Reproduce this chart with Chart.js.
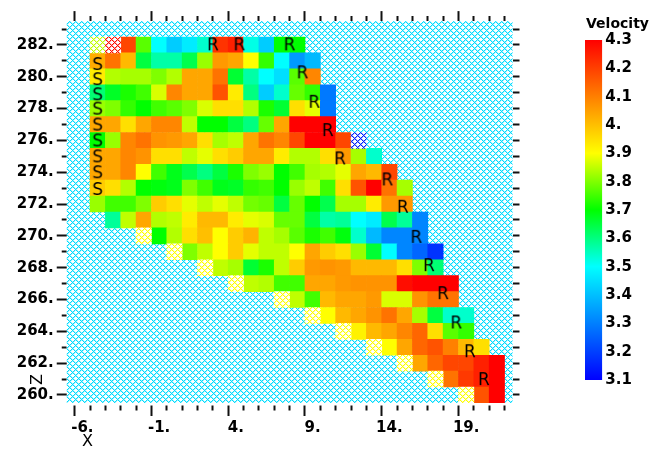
<!DOCTYPE html>
<html>
<head>
<meta charset="utf-8">
<script src="https://cdn.jsdelivr.net/npm/chart.js@4.4.1/dist/chart.umd.min.js"></script>
<style>
  body { margin: 0; background: #fff; }
  #wrap { position: relative; width: 659px; height: 449px; }
  #wrap canvas { position: absolute; top: 0; }
</style>
</head>
<body>
<div id="wrap">
  <canvas id="plot" width="659" height="449" style="left:0"></canvas>
  <canvas id="bar" width="90" height="449" style="left:560px"></canvas>
</div>
<script>
// velocity cells: one row per depth z, first value sits at x = rowStart
const rowZ = [282, 281, 280, 279, 278, 277, 276, 275, 274, 273, 272, 271, 270, 269, 268, 267, 266, 265, 264, 263, 262, 261, 260];
const rowStart = [-3, -5, -5, -5, -5, -5, -5, -5, -5, -5, -5, -4, -1, 1, 3, 5, 8, 10, 12, 14, 16, 18, 20];
const rowValues = [
  [4.19, 3.77, 3.50, 3.42, 3.47, 3.54, 4.22, 4.25, 3.52, 3.42, 3.70, 3.70],
  [4.03, 4.12, 4.01, 3.65, 3.57, 3.57, 3.64, 3.82, 4.06, 4.04, 3.90, 3.74, 3.50, 3.34, 3.39],
  [3.93, 3.84, 3.83, 3.83, 3.80, 3.84, 4.04, 4.04, 4.12, 3.66, 3.57, 3.50, 3.45, 3.77, 4.09],
  [3.61, 3.67, 3.72, 3.75, 3.87, 4.09, 4.04, 4.04, 4.17, 3.93, 3.60, 3.42, 3.54, 3.78, 3.74, 3.29],
  [3.82, 3.80, 3.74, 3.70, 3.75, 3.77, 3.80, 3.87, 3.95, 3.95, 3.84, 3.72, 3.66, 3.95, 3.88, 3.29],
  [4.04, 4.04, 3.95, 4.04, 4.09, 4.09, 3.85, 3.70, 3.70, 3.65, 3.60, 3.78, 4.04, 4.30, 4.30, 4.30],
  [3.70, 3.82, 4.09, 4.12, 4.07, 4.06, 4.04, 3.95, 3.83, 3.85, 4.04, 4.12, 4.09, 4.19, 4.30, 4.30, 4.19],
  [4.04, 4.04, 4.09, 4.07, 3.95, 3.95, 3.85, 3.88, 3.95, 3.98, 4.04, 4.04, 3.93, 3.84, 3.84, 3.95, 4.06, 3.83, 3.54],
  [4.04, 4.04, 4.09, 3.90, 3.75, 3.68, 3.64, 3.60, 3.65, 3.72, 3.80, 3.82, 3.70, 3.75, 3.83, 3.84, 3.88, 4.04, 4.01, 4.19],
  [3.98, 3.95, 3.84, 3.70, 3.69, 3.68, 3.80, 3.75, 3.68, 3.67, 3.74, 3.75, 3.70, 3.82, 3.85, 3.75, 3.95, 4.17, 4.30, 4.12, 3.83],
  [3.82, 3.75, 3.75, 3.80, 3.98, 3.95, 3.88, 3.85, 3.88, 3.85, 3.79, 3.78, 3.65, 3.78, 3.70, 3.64, 3.83, 3.83, 3.93, 4.06, 4.06],
  [3.58, 3.85, 4.04, 3.84, 3.85, 3.93, 4.01, 4.01, 3.93, 3.88, 3.87, 3.78, 3.78, 3.65, 3.57, 3.58, 3.50, 3.47, 3.64, 3.58, 3.31],
  [3.70, 3.84, 3.95, 4.00, 3.90, 3.98, 4.02, 3.85, 3.83, 3.77, 3.72, 3.75, 3.69, 3.54, 3.39, 3.31, 3.31, 3.31],
  [3.80, 3.85, 3.90, 3.98, 3.88, 3.85, 3.85, 3.90, 4.04, 3.98, 3.95, 3.82, 3.66, 3.50, 3.31, 3.26, 3.18],
  [3.85, 3.83, 3.66, 3.72, 3.85, 3.98, 4.06, 4.07, 4.06, 4.01, 4.01, 4.01, 3.95, 3.80, 3.61],
  [3.85, 3.84, 3.75, 3.75, 4.04, 4.04, 4.06, 4.07, 4.07, 4.07, 4.28, 4.30, 4.30, 4.30],
  [3.85, 3.75, 4.01, 4.04, 4.04, 4.06, 3.87, 3.87, 4.07, 4.12, 4.12],
  [3.90, 4.01, 4.04, 4.07, 4.12, 4.04, 3.83, 3.65, 3.54, 3.54],
  [3.92, 4.01, 4.04, 4.09, 4.14, 3.95, 3.77, 3.74],
  [3.90, 4.04, 4.14, 4.17, 4.10, 4.01, 3.95],
  [4.04, 4.14, 4.19, 4.19, 4.25, 4.30],
  [4.12, 4.21, 4.25, 4.30],
  [4.17, 4.30]
];

// poorly covered cells, drawn hatched in their colour
const hatchX = [-5, -4, 12, -2, 0, 2, 4, 7, 9, 11, 13, 15, 17, 19];
const hatchZ = [282, 282, 276, 270, 269, 268, 267, 266, 265, 264, 263, 262, 261, 260];
const hatchV = [3.85, 4.28, 3.15, 3.9, 3.9, 3.9, 3.9, 3.9, 3.9, 3.9, 3.9, 3.9, 3.9, 3.9];

// sources and receivers
const sourceX = [-5, -5, -5, -5, -5, -5, -5, -5, -5];
const sourceZ = [280.8, 279.85, 278.9, 278, 277, 276, 275, 274, 272.95];
const receiverX = [2.51, 4.23, 7.5, 8.34, 9.11, 9.99, 10.79, 13.87, 14.88, 15.76, 16.58, 17.5, 18.36, 19.25, 20.16];
const receiverZ = [282.04, 282.04, 282.04, 280.28, 278.43, 276.65, 274.87, 273.55, 271.83, 269.94, 268.16, 266.4, 264.56, 262.75, 261.0];

// axis ticks
const range = (a, b) => Array.from({ length: b - a + 1 }, (_, i) => a + i);
const xTicks = range(-6, 21);
const xMajor = [-6, -1, 4, 9, 14, 19];
const zTicks = range(260, 283);
const zMajor = [260, 262, 264, 266, 268, 270, 272, 274, 276, 278, 280, 282];
const velTicks = [3.1, 3.2, 3.3, 3.4, 3.5, 3.6, 3.7, 3.8, 3.9, 4.0, 4.1, 4.2, 4.3];

// colour map
const mapStops = [3.1, 3.5, 3.7, 3.9, 4.3];
const mapRGB = [[0, 0, 255], [0, 255, 255], [0, 255, 0], [255, 255, 0], [255, 0, 0]];

function velColor(v) {
  if (v <= mapStops[0]) return 'rgb(' + mapRGB[0] + ')';
  for (let i = 1; i < mapStops.length; i++) {
    if (v <= mapStops[i]) {
      const t = (v - mapStops[i - 1]) / (mapStops[i] - mapStops[i - 1]);
      const c = mapRGB[i - 1].map((a, k) => Math.round(a + (mapRGB[i][k] - a) * t));
      return 'rgb(' + c + ')';
    }
  }
  return 'rgb(' + mapRGB[mapRGB.length - 1] + ')';
}

// diagonal cross-hatch, 6 px period, line pixel plus a faint neighbour
const patterns = {};
function hatch(color) {
  if (patterns[color]) return patterns[color];
  const c = document.createElement('canvas');
  c.width = c.height = 6;
  const g = c.getContext('2d');
  g.fillStyle = '#fff';
  g.fillRect(0, 0, 6, 6);
  for (let y = 0; y < 6; y++) {
    for (let x = 0; x < 6; x++) {
      const on = (x + y) % 6 === 0 || (x - y + 6) % 6 === 0;
      const near = ((x + y + 5) % 6 === 0) || ((x - y + 11) % 6 === 0);
      if (on) { g.globalAlpha = 1; g.fillStyle = color; g.fillRect(x, y, 1, 1); }
      else if (near) { g.globalAlpha = 0.35; g.fillStyle = color; g.fillRect(x, y, 1, 1); }
    }
  }
  patterns[color] = g.createPattern(c, 'repeat');
  return patterns[color];
}

function glyph(ch) {
  const c = document.createElement('canvas');
  c.width = 16; c.height = 20;
  const g = c.getContext('2d');
  g.font = '17px "DejaVu Sans"';
  g.fillStyle = '#000';
  g.textAlign = 'center';
  g.fillText(ch, 8, 16.2);
  return c;
}

const cells = [];
rowZ.forEach((z, r) => rowValues[r].forEach((v, i) => {
  cells.push({ x: rowStart[r] + i, y: [z - 0.5, z + 0.5], v: v });
}));
hatchX.forEach((x, i) => cells.push({ x: x, y: [hatchZ[i] - 0.5, hatchZ[i] + 0.5], v: hatchV[i], hatched: true }));

const tickFont = { family: 'DejaVu Sans', size: 15, weight: 'bold' };
const isMajor = (c, list) => !!(c && c.tick && list.includes(c.tick.value));

const backHatch = {
  id: 'backHatch',
  beforeDatasetsDraw(chart) {
    const a = chart.chartArea, ctx = chart.ctx;
    ctx.save();
    ctx.fillStyle = hatch('#00dcff');
    ctx.fillRect(a.left, a.top, a.right - a.left, a.bottom - a.top);
    ctx.restore();
  }
};

const axisNames = {
  id: 'axisNames',
  afterDraw(chart) {
    const ctx = chart.ctx;
    ctx.save();
    ctx.fillStyle = '#000';
    ctx.font = '16px "DejaVu Sans"';
    ctx.textAlign = 'center';
    ctx.textBaseline = 'middle';
    ctx.fillText('X', 87.5, 442);
    ctx.translate(37.5, 379.5);
    ctx.rotate(-Math.PI / 2);
    ctx.fillText('Z', 0, 0);
    ctx.restore();
  }
};

new Chart(document.getElementById('plot'), {
  type: 'bar',
  data: {
    datasets: [
      { type: 'scatter', order: 0, data: sourceX.map((x, i) => ({ x: x, y: sourceZ[i] })), pointStyle: glyph('S'), pointRadius: 5 },
      { type: 'scatter', order: 0, data: receiverX.map((x, i) => ({ x: x, y: receiverZ[i] })), pointStyle: glyph('R'), pointRadius: 5 },
      {
        order: 1,
        data: cells,
        backgroundColor: c => c.raw ? (c.raw.hatched ? hatch(velColor(c.raw.v)) : velColor(c.raw.v)) : '#fff',
        barPercentage: 1,
        categoryPercentage: 1,
        borderWidth: 0
      }
    ]
  },
  options: {
    responsive: false,
    animation: false,
    devicePixelRatio: 1,
    events: [],
    layout: { padding: 0 },
    plugins: { legend: { display: false }, tooltip: { enabled: false } },
    scales: {
      x: {
        type: 'linear', position: 'bottom', min: -6.5, max: 21.5,
        afterBuildTicks: s => { s.ticks = xTicks.map(v => ({ value: v })); },
        afterFit: s => { s.height = 46.05; },
        border: { display: false },
        grid: {
          drawOnChartArea: false, tickLength: 13, tickWidth: 2, tickColor: '#111',
          tickBorderDash: c => isMajor(c, xMajor) ? [0, 2.5, 30] : [0, 2.5, 5, 30]
        },
        ticks: { autoSkip: false, maxRotation: 0, padding: 3, color: '#000', font: tickFont,
          callback: v => xMajor.includes(v) ? v + '.' : '' }
      },
      xTop: {
        type: 'linear', position: 'top', min: -6.5, max: 21.5,
        afterBuildTicks: s => { s.ticks = xTicks.map(v => ({ value: v })); },
        afterFit: s => { s.height = 21.1; },
        border: { display: false },
        grid: {
          drawOnChartArea: false, tickLength: 10, tickWidth: 2, tickColor: '#111',
          tickBorderDash: c => isMajor(c, xMajor) ? [] : [0, 5, 5, 30]
        },
        ticks: { display: false }
      },
      y: {
        type: 'linear', position: 'left', min: 259.5, max: 283.5,
        afterBuildTicks: s => { s.ticks = zTicks.map(v => ({ value: v })); },
        afterFit: s => { s.width = 66.74; },
        border: { display: false },
        grid: {
          drawOnChartArea: false, tickLength: 10, tickWidth: 2, tickColor: '#111',
          tickBorderDash: c => isMajor(c, zMajor) ? [] : [0, 5, 5, 30]
        },
        ticks: { autoSkip: false, padding: 3, color: '#000', font: tickFont,
          callback: v => zMajor.includes(v) ? v + '.' : '' }
      },
      yRight: {
        type: 'linear', position: 'right', min: 259.5, max: 283.5,
        afterBuildTicks: s => { s.ticks = zTicks.map(v => ({ value: v })); },
        afterFit: s => { s.width = 146.5; },
        border: { display: false },
        grid: { drawOnChartArea: false, tickLength: 7, tickWidth: 2, tickColor: '#111' },
        ticks: { display: false }
      }
    }
  },
  plugins: [backHatch, axisNames]
});

function velLabel(v) {
  const r = Math.round(v * 10) / 10;
  return Number.isInteger(r) ? r + '.' : r.toFixed(1);
}

new Chart(document.getElementById('bar'), {
  type: 'bar',
  data: {
    labels: ['Velocity'],
    datasets: [{
      data: [[velTicks[0], velTicks[velTicks.length - 1]]],
      backgroundColor: c => {
        const a = c.chart.chartArea;
        if (!a) return '#fff';
        const g = c.chart.ctx.createLinearGradient(0, a.bottom, 0, a.top);
        mapStops.forEach((s, i) => g.addColorStop((s - mapStops[0]) / (mapStops[mapStops.length - 1] - mapStops[0]), 'rgb(' + mapRGB[i] + ')'));
        return g;
      },
      barPercentage: 1,
      categoryPercentage: 1,
      inflateAmount: 0,
      borderWidth: 0
    }]
  },
  options: {
    responsive: false,
    animation: false,
    devicePixelRatio: 1,
    events: [],
    layout: { padding: { left: 25, top: 0, right: 0, bottom: 69 } },
    plugins: {
      legend: { display: false },
      tooltip: { enabled: false },
      title: { display: true, text: 'Velocity', color: '#000',
        font: { family: 'DejaVu Sans', size: 14, weight: 'bold' }, padding: { top: 16, bottom: 7.2 } }
    },
    scales: {
      x: { display: false },
      y: {
        position: 'right', min: 3.1, max: 4.3,
        afterBuildTicks: s => { s.ticks = velTicks.map(v => ({ value: v })); },
        afterFit: s => { s.width = 47.7; },
        border: { display: false },
        grid: { display: false, drawTicks: false },
        ticks: { padding: 3, color: '#000', font: tickFont, callback: v => velLabel(v) }
      }
    }
  }
});
</script>
</body>
</html>
